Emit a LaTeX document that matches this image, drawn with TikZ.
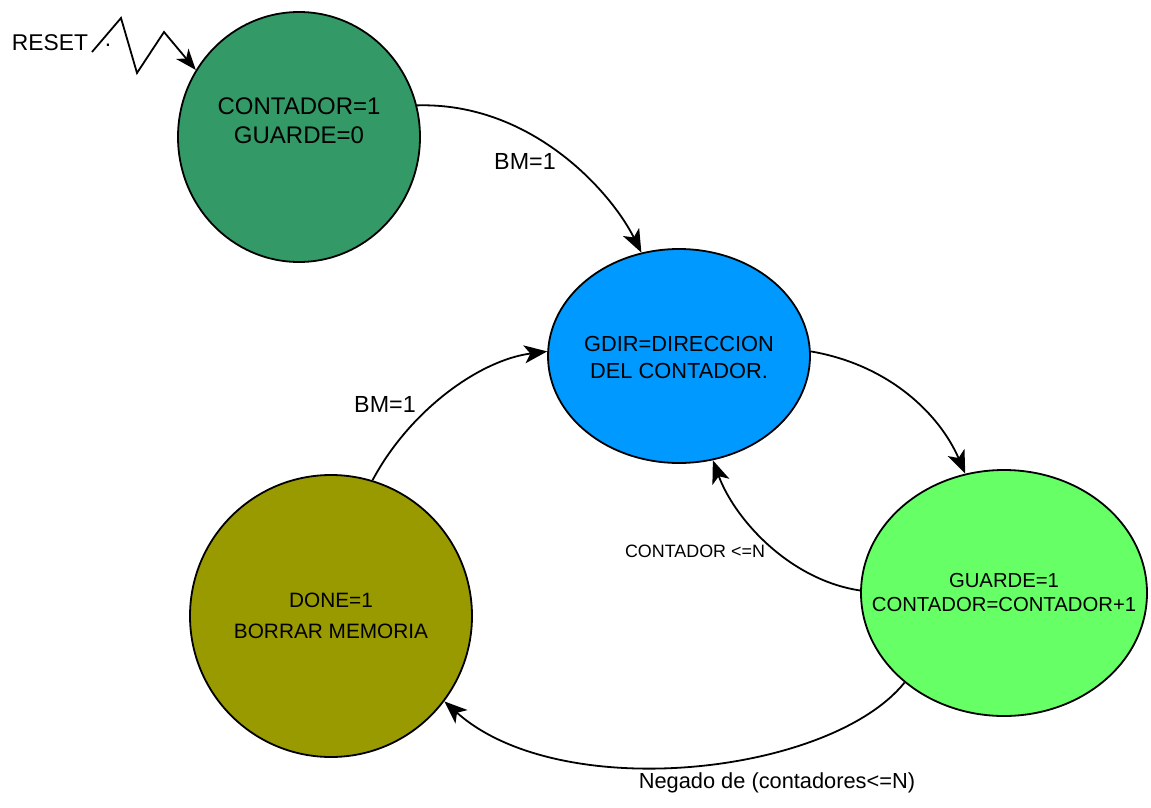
\documentclass[tikz,border=0pt]{standalone}
\usepackage{fontspec}
\setmainfont{Liberation Sans}
\usetikzlibrary{shapes.geometric,arrows.meta}
\definecolor{cTop}{RGB}{51,153,102}
\definecolor{cBlue}{RGB}{0,153,255}
\definecolor{cLight}{RGB}{102,255,102}
\definecolor{cOlive}{RGB}{153,153,0}
\tikzset{
  state/.style={ellipse, draw=black, line width=1.8pt, inner sep=0pt},
  conn/.style={line width=1.8pt, -{Stealth[length=23pt,width=18pt,inset=6pt]}},
  lbl/.style={font=\fontsize{23.3}{28}\selectfont, align=center},
  slbl/.style={font=\fontsize{17.9}{21}\selectfont}
}
\begin{document}
\begin{tikzpicture}[x=1pt,y=-1pt]
\useasboundingbox (0,0) rectangle (1151,808);
\node[state, fill=cTop, minimum width=242pt, minimum height=250pt,
  label={[font=\fontsize{24}{29}\selectfont,align=center,yshift=16pt]center:CONTADOR=1\\GUARDE=0}] (g1) at (299,137) {};
\node[state, fill=cBlue, minimum width=262pt, minimum height=214pt,
  label={[font=\fontsize{21.8}{27}\selectfont,align=center,yshift=-1pt]center:GDIR=DIRECCION\\DEL CONTADOR.}] (b) at (679,356) {};
\node[state, fill=cLight, minimum width=286pt, minimum height=246pt,
  label={[font=\fontsize{20.3}{24}\selectfont,align=center]center:GUARDE=1\\CONTADOR=CONTADOR+1}] (lg) at (1004,593) {};
\node[state, fill=cOlive, minimum width=282pt, minimum height=282pt,
  label={[font=\fontsize{20.8}{31}\selectfont,align=center]center:DONE=1\\BORRAR MEMORIA}] (o) at (331,616) {};

\node[font=\fontsize{22.8}{27}\selectfont] (reset) at (50,43) {RESET};
\node[font=\fontsize{22.8}{27}\selectfont, inner sep=0pt] (dot) at (108,45) {.};
\coordinate (z0) at (92,52);
\coordinate (z1) at (121,18);
\coordinate (z2) at (137,73);
\coordinate (z3) at (164,32);
\draw[conn, -{Stealth[length=21pt,width=16pt,inset=6pt]}] (z0) -- (z1) -- (z2) -- (z3) -- (g1.147);

\draw[conn] (g1.15) .. controls (530,102) and (610,190) .. (b.110);
\node[lbl] (l1) at (525,161) {BM=1};
\draw[conn] (b.2) .. controls (890,365) and (940,415) .. (lg.108);
\draw[conn] (lg.179) .. controls (790,580) and (735,520) .. (b.288);
\node[slbl] (l3) at (695,551) {CONTADOR <=N};
\draw[conn] (lg.222) .. controls (830,775) and (560,805) .. (o.-37);
\node[font=\fontsize{21.8}{26}\selectfont] (l4) at (777,783) {Negado de (contadores<=N)};
\draw[conn] (o.73) .. controls (410,410) and (480,360) .. (b.178);
\node[lbl] (l5) at (385,404) {BM=1};
\end{tikzpicture}
\end{document}
